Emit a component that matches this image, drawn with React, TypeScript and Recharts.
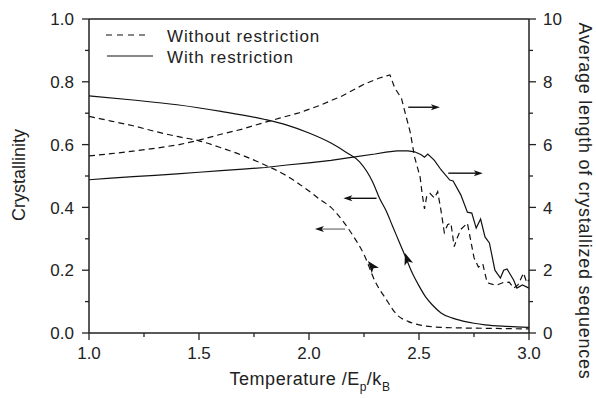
import { ComposedChart, Line, XAxis, YAxis, ReferenceLine, Legend, Label } from 'recharts'

// temperature (E_p/k_B) grids and values
const crystNoResT = [1.0, 1.1, 1.2, 1.3, 1.4, 1.5, 1.6, 1.7, 1.8, 1.9, 2.0, 2.05, 2.1, 2.15, 2.2, 2.25, 2.3, 2.35, 2.4, 2.45, 2.5, 2.6, 2.7, 2.8, 2.9, 3.0]
const crystNoRes = [0.69, 0.675, 0.66, 0.642, 0.626, 0.612, 0.59, 0.565, 0.535, 0.5, 0.452, 0.425, 0.4, 0.36, 0.31, 0.25, 0.165, 0.108, 0.058, 0.037, 0.026, 0.018, 0.016, 0.015, 0.014, 0.013]

const crystResT = [1.0, 1.2, 1.4, 1.6, 1.8, 1.9, 2.0, 2.1, 2.17, 2.23, 2.29, 2.32, 2.35, 2.38, 2.41, 2.44, 2.47, 2.5, 2.53, 2.56, 2.6, 2.65, 2.7, 2.75, 2.8, 2.9, 3.0]
const crystRes = [0.755, 0.742, 0.727, 0.706, 0.68, 0.662, 0.637, 0.605, 0.575, 0.545, 0.48, 0.43, 0.39, 0.34, 0.29, 0.24, 0.19, 0.15, 0.115, 0.09, 0.064, 0.048, 0.038, 0.031, 0.026, 0.021, 0.018]

const lenNoResT = [1.0, 1.1, 1.2, 1.3, 1.41, 1.5, 1.6, 1.7, 1.78, 1.87, 1.95, 2.05, 2.15, 2.25, 2.32, 2.368, 2.39, 2.42, 2.436, 2.46, 2.48, 2.505, 2.515, 2.525, 2.535, 2.55, 2.57, 2.585, 2.6, 2.615, 2.63, 2.645, 2.66, 2.675, 2.69, 2.72, 2.735, 2.75, 2.77, 2.79, 2.81, 2.835, 2.855, 2.88, 2.91, 2.93, 2.95, 2.975, 2.99, 3.0]
const lenNoRes = [5.64, 5.71, 5.79, 5.88, 6.0, 6.14, 6.33, 6.5, 6.67, 6.85, 7.0, 7.25, 7.55, 7.92, 8.12, 8.22, 7.8, 7.48, 7.04, 6.4, 5.6, 4.97, 4.4, 3.95, 4.35, 4.45, 4.3, 4.5, 3.9, 3.2, 3.45, 3.5, 2.75, 3.05, 3.3, 3.5, 2.95, 2.4, 2.1, 2.2, 1.6, 1.55, 1.53, 1.6, 1.62, 1.43, 1.53, 1.91, 1.6, 1.7]

const lenResT = [1.0, 1.1, 1.2, 1.3, 1.4, 1.5, 1.6, 1.7, 1.8, 1.9, 2.0, 2.1, 2.2, 2.3, 2.35, 2.4, 2.45, 2.48, 2.51, 2.525, 2.54, 2.57, 2.6, 2.64, 2.655, 2.69, 2.72, 2.74, 2.76, 2.78, 2.8, 2.82, 2.845, 2.87, 2.885, 2.9, 2.93, 2.945, 2.97, 3.0]
const lenRes = [4.88, 4.93, 4.98, 5.02, 5.07, 5.12, 5.17, 5.22, 5.27, 5.35, 5.42, 5.5, 5.6, 5.7, 5.76, 5.8, 5.8, 5.77, 5.68, 5.6, 5.7, 5.5, 5.2, 4.87, 4.84, 4.4, 3.85, 3.82, 3.34, 3.63, 3.06, 2.87, 2.0, 1.75, 2.0, 2.04, 1.69, 1.43, 1.53, 1.43]

const xTicks = [1, 1.25, 1.5, 1.75, 2, 2.25, 2.5, 2.75, 3]
const leftTicks = [0, 0.1, 0.2, 0.3, 0.4, 0.5, 0.6, 0.7, 0.8, 0.9, 1]
const rightTicks = [0, 1, 2, 3, 4, 5, 6, 7, 8, 9, 10]

// annotation arrows in data units: [x1, y1, x2, y2], head at the second point
const leftArrows = [[2.307, 0.429, 2.156, 0.429], [2.164, 0.331, 2.027, 0.331]]
const rightArrows = [[2.451, 7.19, 2.595, 7.19], [2.633, 5.09, 2.79, 5.09]]
const curveHeads = [[2.3, 0.2, 2.268, 0.229], [2.452, 0.222, 2.436, 0.255]]

const pts = (ts: number[], vs: number[]) => ts.map((t, i) => ({ t, v: vs[i] }))

const FONT = '"Liberation Sans", Arial, sans-serif'
const AX = '#222'
const INK = '#111'

const XTick = (props: any) => {
  const { x, y, payload } = props
  const major = Math.round(payload.value * 4) % 2 === 0
  return (
    <g>
      <line x1={x} y1={y} x2={x} y2={y + (major ? 7 : 4)} stroke={AX} strokeWidth={1.3} />
      {major && (
        <text x={x} y={y + 26} textAnchor="middle" fontSize={17} fill={AX} fontFamily={FONT}>
          {payload.value.toFixed(1)}
        </text>
      )}
    </g>
  )
}

const LeftTick = (props: any) => {
  const { x, y, payload } = props
  const major = Math.round(payload.value * 10) % 2 === 0
  return (
    <g>
      <line x1={x - (major ? 7 : 4)} y1={y} x2={x} y2={y} stroke={AX} strokeWidth={1.3} />
      {major && (
        <text x={x - 15} y={y} dy="0.36em" textAnchor="end" fontSize={17} fill={AX} fontFamily={FONT}>
          {payload.value.toFixed(1)}
        </text>
      )}
    </g>
  )
}

const RightTick = (props: any) => {
  const { x, y, payload } = props
  const major = payload.value % 2 === 0
  return (
    <g>
      <line x1={x} y1={y} x2={x + (major ? 7 : 4)} y2={y} stroke={AX} strokeWidth={1.3} />
      {major && (
        <text x={x + 14} y={y} dy="0.36em" textAnchor="start" fontSize={17} fill={AX} fontFamily={FONT}>
          {payload.value}
        </text>
      )}
    </g>
  )
}

const arrowShape = (headColor: string, shaftColor: string, head: number, half: number, shaft: boolean) => (p: any) => {
  const { x1, y1, x2, y2 } = p
  const dx = x2 - x1
  const dy = y2 - y1
  const len = Math.hypot(dx, dy) || 1
  const ux = dx / len
  const uy = dy / len
  const bx = x2 - ux * head
  const by = y2 - uy * head
  const nx = bx + ux * head * 0.25
  const ny = by + uy * head * 0.25
  const poly = `${x2},${y2} ${bx - uy * half},${by + ux * half} ${nx},${ny} ${bx + uy * half},${by - ux * half}`
  return (
    <g>
      {shaft && <line x1={x1} y1={y1} x2={nx} y2={ny} stroke={shaftColor} strokeWidth={1.4} />}
      <polygon points={poly} fill={headColor} />
    </g>
  )
}

const LegendBox = () => (
  <div style={{ fontFamily: FONT, fontSize: 17, letterSpacing: 0.9, color: AX, lineHeight: '21px' }}>
    <div style={{ display: 'flex', alignItems: 'center' }}>
      <svg width={48} height={21}>
        <line x1={0} y1={9} x2={42} y2={9} stroke={INK} strokeWidth={1.2} strokeDasharray="6 5" />
      </svg>
      <span style={{ marginLeft: 13 }}>Without restriction</span>
    </div>
    <div style={{ display: 'flex', alignItems: 'center' }}>
      <svg width={48} height={21}>
        <line x1={1} y1={9} x2={47} y2={9} stroke={INK} strokeWidth={1.2} />
      </svg>
      <span style={{ marginLeft: 13 }}>With restriction</span>
    </div>
  </div>
)

export default function App() {
  return (
    <div style={{ position: 'absolute', left: 0, top: 0, background: '#fff' }}>
      <ComposedChart width={596} height={398} margin={{ top: 19, right: 27, bottom: 35, left: 29 }}>
        <XAxis
          xAxisId="x"
          type="number"
          dataKey="t"
          domain={[1, 3]}
          ticks={xTicks}
          interval={0}
          tickSize={0}
          tickMargin={0}
          tickLine={false}
          tick={<XTick />}
          height={30}
          axisLine={{ stroke: AX, strokeWidth: 1.5 }}
        >
          <Label
            content={() => (
              <text x={310} y={385} textAnchor="middle" fontSize={18} letterSpacing={0.5} fill={AX} fontFamily={FONT}>
                Temperature /E
                <tspan dy={6} fontSize={12}>p</tspan>
                <tspan dy={-6}>/k</tspan>
                <tspan dy={6} fontSize={12}>B</tspan>
              </text>
            )}
          />
        </XAxis>
        <YAxis
          yAxisId="L"
          type="number"
          domain={[0, 1]}
          ticks={leftTicks}
          interval={0}
          tickSize={0}
          tickMargin={0}
          tickLine={false}
          tick={<LeftTick />}
          width={60}
          axisLine={{ stroke: AX, strokeWidth: 1.5 }}
        >
          <Label
            content={() => (
              <text x={19} y={175} transform="rotate(-90 19 175)" dy="0.36em" textAnchor="middle" fontSize={18} fill={AX} fontFamily={FONT}>
                Crystallinity
              </text>
            )}
          />
        </YAxis>
        <YAxis
          yAxisId="R"
          orientation="right"
          type="number"
          domain={[0, 10]}
          ticks={rightTicks}
          interval={0}
          tickSize={0}
          tickMargin={0}
          tickLine={false}
          tick={<RightTick />}
          width={40}
          axisLine={{ stroke: AX, strokeWidth: 1.5 }}
        >
          <Label
            content={() => (
              <text x={585} y={201} transform="rotate(90 585 201)" dy="0.36em" textAnchor="middle" fontSize={18} letterSpacing={0.75} fill={AX} fontFamily={FONT}>
                Average length of crystallized sequences
              </text>
            )}
          />
        </YAxis>

        <ReferenceLine xAxisId="x" yAxisId="L" y={1} stroke={AX} strokeWidth={1.5} />

        <Line xAxisId="x" yAxisId="L" data={pts(crystNoResT, crystNoRes)} dataKey="v" name="Crystallinity without restriction" type="monotone" stroke={INK} strokeWidth={1.2} strokeDasharray="6 4" dot={false} isAnimationActive={false} />
        <Line xAxisId="x" yAxisId="L" data={pts(crystResT, crystRes)} dataKey="v" name="Crystallinity with restriction" type="monotone" stroke={INK} strokeWidth={1.2} dot={false} isAnimationActive={false} />
        <Line xAxisId="x" yAxisId="R" data={pts(lenNoResT, lenNoRes)} dataKey="v" name="Length without restriction" type="linear" stroke={INK} strokeWidth={1.2} strokeDasharray="6 4" dot={false} isAnimationActive={false} />
        <Line xAxisId="x" yAxisId="R" data={pts(lenResT, lenRes)} dataKey="v" name="Length with restriction" type="linear" stroke={INK} strokeWidth={1.2} dot={false} isAnimationActive={false} />

        {leftArrows.map((a, i) => (
          <ReferenceLine
            key={`la${i}`}
            xAxisId="x"
            yAxisId="L"
            segment={[{ x: a[0], y: a[1] }, { x: a[2], y: a[3] }]}
            shape={arrowShape(INK, i === 1 ? '#808080' : INK, 9, 3, true)}
          />
        ))}
        {rightArrows.map((a, i) => (
          <ReferenceLine
            key={`ra${i}`}
            xAxisId="x"
            yAxisId="R"
            segment={[{ x: a[0], y: a[1] }, { x: a[2], y: a[3] }]}
            shape={arrowShape(INK, INK, 9, 3, true)}
          />
        ))}
        {curveHeads.map((a, i) => (
          <ReferenceLine
            key={`ch${i}`}
            xAxisId="x"
            yAxisId="L"
            segment={[{ x: a[0], y: a[1] }, { x: a[2], y: a[3] }]}
            shape={arrowShape(INK, INK, 12, 4.5, false)}
          />
        ))}

        <Legend
          layout="vertical"
          align="center"
          verticalAlign="middle"
          content={() => <LegendBox />}
          wrapperStyle={{ left: 106, top: 26, width: 240, height: 44 }}
        />
      </ComposedChart>
    </div>
  )
}
